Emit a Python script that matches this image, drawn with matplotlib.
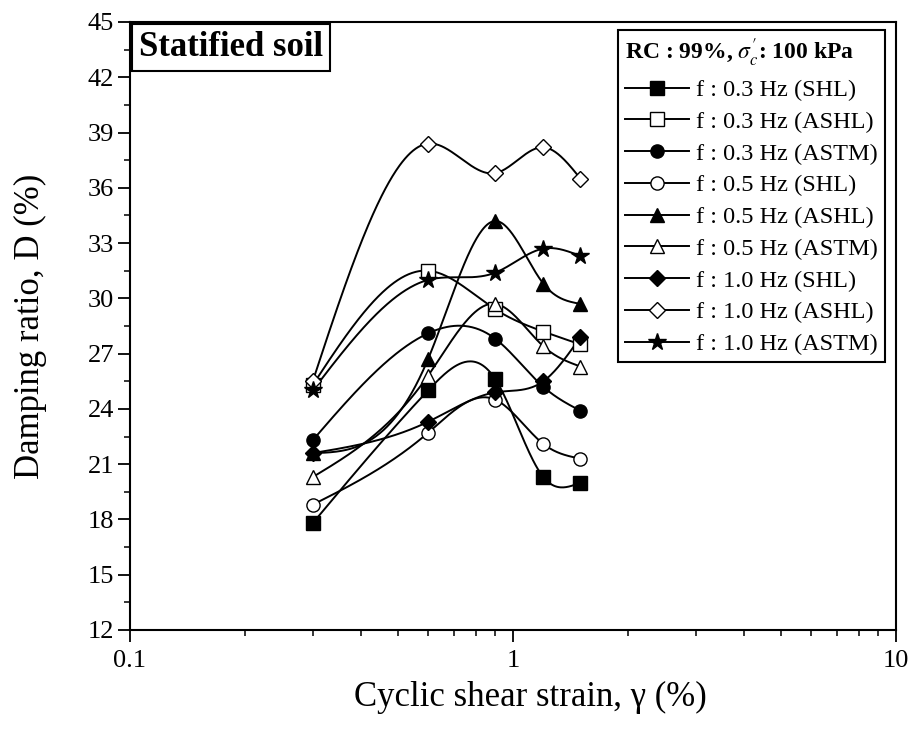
import numpy as np
import matplotlib
matplotlib.use("Agg")
import matplotlib.pyplot as plt
from matplotlib.ticker import NullFormatter, MultipleLocator, LogLocator

# ---- data ----
strain = [0.3, 0.6, 0.9, 1.2, 1.5]
labels = ["f : 0.3 Hz (SHL)", "f : 0.3 Hz (ASHL)", "f : 0.3 Hz (ASTM)",
          "f : 0.5 Hz (SHL)", "f : 0.5 Hz (ASHL)", "f : 0.5 Hz (ASTM)",
          "f : 1.0 Hz (SHL)", "f : 1.0 Hz (ASHL)", "f : 1.0 Hz (ASTM)"]
d_03_shl = [17.8, 25.0, 25.6, 20.3, 20.0]
d_03_ashl = [25.3, 31.5, 29.4, 28.2, 27.5]
d_03_astm = [22.3, 28.1, 27.8, 25.2, 23.9]
d_05_shl = [18.8, 22.7, 24.5, 22.1, 21.3]
d_05_ashl = [21.6, 26.7, 34.2, 30.8, 29.7]
d_05_astm = [20.3, 25.8, 29.7, 27.4, 26.3]
d_10_shl = [21.6, 23.3, 24.9, 25.5, 27.9]
d_10_ashl = [25.5, 38.4, 36.8, 38.2, 36.5]
d_10_astm = [25.0, 31.0, 31.4, 32.7, 32.3]
series = [d_03_shl, d_03_ashl, d_03_astm, d_05_shl, d_05_ashl,
          d_05_astm, d_10_shl, d_10_ashl, d_10_astm]
markers = ["s", "s", "o", "o", "^", "^", "D", "D", "*"]
filled = [True, False, True, False, True, False, True, False, True]


def natural_spline(x, y, xs):
    x = np.asarray(x, float)
    y = np.asarray(y, float)
    n = len(x)
    h = np.diff(x)
    A = np.zeros((n, n))
    b = np.zeros(n)
    A[0, 0] = 1
    A[-1, -1] = 1
    for i in range(1, n - 1):
        A[i, i - 1] = h[i - 1]
        A[i, i] = 2 * (h[i - 1] + h[i])
        A[i, i + 1] = h[i]
        b[i] = 3 * ((y[i + 1] - y[i]) / h[i] - (y[i] - y[i - 1]) / h[i - 1])
    c = np.linalg.solve(A, b)
    out = np.empty_like(xs)
    for k, xv in enumerate(xs):
        i = min(max(np.searchsorted(x, xv) - 1, 0), n - 2)
        t = xv - x[i]
        bi = (y[i + 1] - y[i]) / h[i] - h[i] * (2 * c[i] + c[i + 1]) / 3
        di = (c[i + 1] - c[i]) / (3 * h[i])
        out[k] = y[i] + bi * t + c[i] * t ** 2 + di * t ** 3
    return out


plt.rcParams['font.family'] = ['Liberation Serif', 'DejaVu Serif']
plt.rcParams['mathtext.fontset'] = 'stix'

fig = plt.figure(figsize=(9.14, 7.29), dpi=100)
ax = fig.add_axes([130 / 914, 1 - 630 / 729, 766 / 914, 608 / 729])

lx = np.log10(strain)
xs = np.linspace(lx[0], lx[-1], 300)
for vals, m, f, lab in zip(series, markers, filled, labels):
    ys = natural_spline(lx, vals, xs)
    ax.plot(10 ** xs, ys, color='black', lw=1.4, zorder=2)
    ms = 13 if m == '*' else (8.5 if m == 'D' else 9.5)
    ax.plot(strain, vals, linestyle='none', marker=m, markersize=ms,
            markerfacecolor='black' if f else 'white', markeredgecolor='black',
            markeredgewidth=1.0, zorder=3)
    ax.plot([], [], color='black', lw=1.4, marker=m, markersize=ms,
            markerfacecolor='black' if f else 'white', markeredgecolor='black',
            markeredgewidth=1.0, label=lab)

ax.set_xscale('log')
ax.set_xlim(0.1, 10)
ax.set_ylim(12, 45)
ax.set_xticks([0.1, 1, 10])
ax.set_xticklabels(["0.1", "1", "10"])
ax.xaxis.set_minor_locator(LogLocator(base=10, subs=np.arange(2, 10)))
ax.xaxis.set_minor_formatter(NullFormatter())
ax.yaxis.set_major_locator(MultipleLocator(3))
ax.yaxis.set_minor_locator(MultipleLocator(1.5))
ax.tick_params(which='major', direction='out', length=8.5, width=1.3, labelsize=19,
               top=False, right=False, pad=3)
ax.tick_params(axis='x', which='major', pad=6)
ax.tick_params(which='minor', direction='out', length=4.5, width=1.1, top=False, right=False)
for s in ax.spines.values():
    s.set_linewidth(1.5)

ax.set_xlabel("Cyclic shear strain, γ (%)", fontsize=25)
ax.set_ylabel("Damping ratio, D (%)", fontsize=25)
ax.xaxis.set_label_coords((530 - 130) / 766, -(681 - 630) / 608)
ax.yaxis.set_label_coords(-(130 - 47) / 766, 0.5)

ax.text(0.012, 0.985, "Statified soil", transform=ax.transAxes, ha='left', va='top',
        fontsize=25, fontweight='bold',
        bbox=dict(boxstyle='square,pad=0.2', facecolor='white', edgecolor='black', linewidth=1.5))

leg = ax.legend(loc='upper right', bbox_to_anchor=((885 - 130) / 766, 1 - 8 / 608),
                title=r"RC : 99%, $\sigma_c^{\prime}$: 100 kPa",
                title_fontproperties={'weight': 'bold', 'size': 17},
                fontsize=17.5, frameon=True, fancybox=False, framealpha=1,
                edgecolor='black', handlelength=2.6, handletextpad=0.3,
                labelspacing=0.4, borderpad=0.3, borderaxespad=0, alignment='left',
                numpoints=1)
leg.get_frame().set_linewidth(1.5)

fig.savefig("out.png", dpi=100)
